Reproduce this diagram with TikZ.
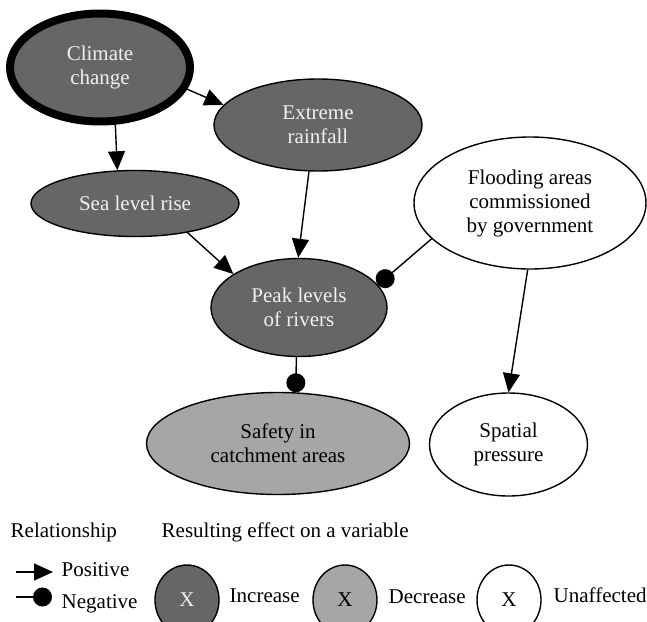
\documentclass[tikz,border=0pt]{standalone}
\usepackage{fontspec}
\setmainfont{Liberation Serif}
\usetikzlibrary{arrows.meta, shapes.geometric}
\definecolor{incgray}{RGB}{102,102,102}
\definecolor{decgray}{RGB}{166,166,166}

\begin{document}
\begin{tikzpicture}
  [
    x = 1pt, y = -1pt, line width = 1.4pt,
    every node/.style = {draw, ellipse, inner sep = 0pt, align = center,
      font = \fontsize{21}{24}\selectfont},
    increase/.style = {fill = incgray, text = white!94!black},
    decrease/.style = {fill = decgray},
    unaffected/.style = {fill = white},
    positive/.style = {-{Triangle[length = 19pt, width = 17pt]}},
    negative/.style = {-{Circle[length = 19pt]}},
    legend/.style = {rectangle, draw = none, fill = none, anchor = base west},
    key/.style = {minimum width = 64pt, minimum height = 70pt}
  ]
  \useasboundingbox (0,0) rectangle (647,621);

  % variables
  \node [increase, line width = 8pt, minimum width = 180pt, minimum height = 108pt]
    (Climate) at (100,67.5) {Climate\\change};
  \node [increase, minimum width = 208pt, minimum height = 92pt]
    (Rain) at (318,125) {Extreme\\rainfall};
  \node [increase, minimum width = 208pt, minimum height = 66pt]
    (Sea) at (135,203.5) {Sea level rise};
  \node [increase, minimum width = 176pt, minimum height = 98pt]
    (Peak) at (299,307.5) {Peak levels\\of rivers};
  \node [unaffected, minimum width = 232pt, minimum height = 132pt]
    (Flood) at (530,203) {Flooding areas\\commissioned\\by government};
  \node [decrease, minimum width = 263pt, minimum height = 102pt]
    (Safety) at (278,443.5) {Safety in\\catchment areas};
  \node [unaffected, minimum width = 158pt, minimum height = 103pt]
    (Spatial) at (508.5,444.5) {Spatial\\pressure};

  % relationships
  \draw [positive] (Climate.-75) -- (Sea.118);
  \draw [positive] (Climate.-14) -- (Rain.168);
  \draw [positive] (Rain.-101) -- (Peak.91);
  \draw [positive] (Sea.-29) -- (Peak.153);
  \draw [negative] (Flood.200) -- (Peak.16);
  \draw [negative] (Peak.-93) -- (Safety.71);
  \draw [positive] (Flood.-92.6) -- (Spatial.90);

  % legend
  \node [legend] (RelText) at (10,537) {Relationship};
  \node [legend] (EffText) at (161,537) {Resulting effect on a variable};
  \coordinate (PosA) at (16,572);
  \coordinate (PosB) at (53,572);
  \coordinate (NegA) at (16,597);
  \coordinate (NegB) at (52,597);
  \draw [positive] (PosA) -- (PosB);
  \draw [negative] (NegA) -- (NegB);
  \node [legend] (PosText) at (61,576) {Positive};
  \node [legend] (NegText) at (61,608) {Negative};
  \node [increase, key] (IncKey) at (187,600) {X};
  \node [decrease, key] (DecKey) at (345,600) {X};
  \node [unaffected, key] (UnaKey) at (509,600) {X};
  \node [legend] (IncText) at (229,602) {Increase};
  \node [legend] (DecText) at (388,603) {Decrease};
  \node [legend] (UnaText) at (553,602) {Unaffected};
\end{tikzpicture}
\end{document}
